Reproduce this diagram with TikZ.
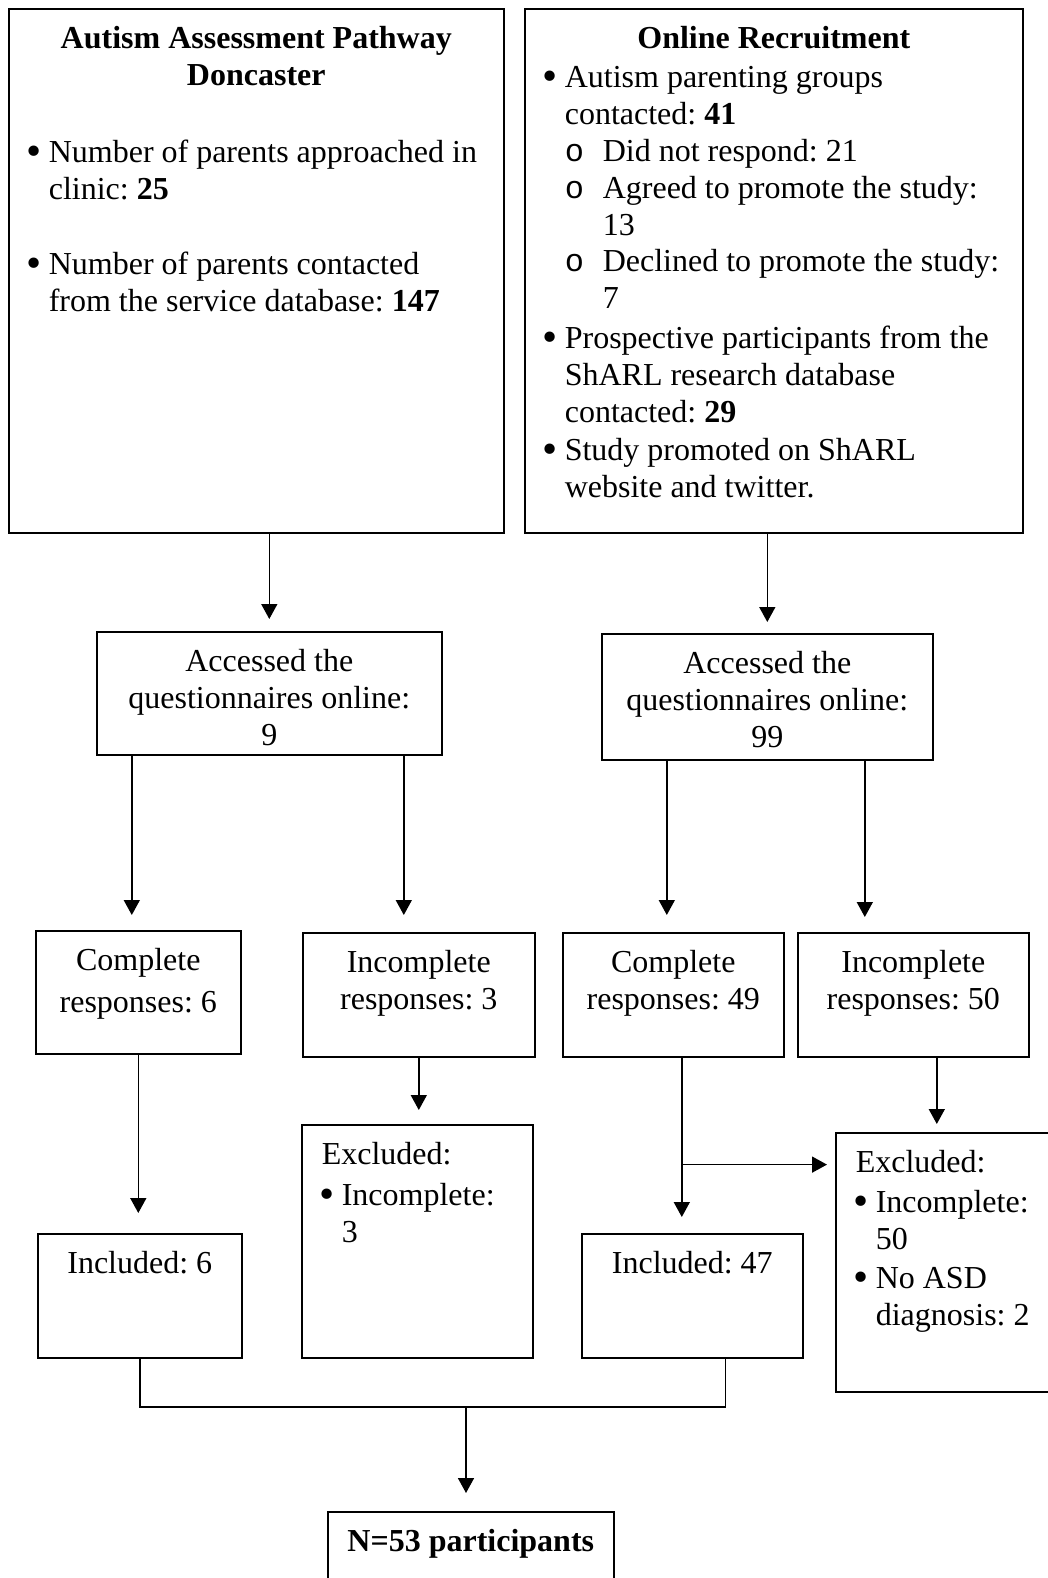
\documentclass[tikz,border=0pt]{standalone}
\usepackage{fontspec}
\setmainfont{Liberation Serif}
\newfontfamily\monofont{Liberation Mono}
\usepackage{graphicx}
\usepackage{tikz}
\usetikzlibrary{arrows.meta,positioning}
\tikzstyle{stage} = [draw=black, line width=1.6pt, inner sep=0pt, anchor=north west, font=\fontsize{32}{36.8}\selectfont\frenchspacing]
\tikzstyle{arrow} = [line width=1.6pt, -{Triangle[width=16pt,length=15pt]}]
\tikzstyle{line} = [line width=1.6pt]
\newcommand{\stagetext}[3]{\parbox[c][#2][t]{#1}{\vspace*{14pt}#3}}
\newcommand{\bul}{\makebox[20pt][l]{\hspace{-2pt}\raisebox{-3pt}{\scalebox{1.35}{\textbullet}}}}
\newcommand{\subbul}{\leavevmode\hspace*{20pt}\makebox[38pt][l]{\monofont o}}
\newcommand{\ind}[1]{\leavevmode\hspace*{#1}}

\begin{document}
\begin{tikzpicture}[x=1pt, y=-1pt]
\useasboundingbox (0,0) rectangle (1048,1578);

% Nodes
\node (apd) [stage] at (8,8) {\stagetext{495pt}{524pt}{\centering\bfseries\strut Autism Assessment Pathway\\Doncaster\\[40.6pt]\raggedright\mdseries\leftskip=20pt\bul Number of parents approached in\\\ind{20pt}clinic: \textbf{25}\\[38.4pt]\bul Number of parents contacted\\\ind{20pt}from the service database: \textbf{147}}};
\node (online) [stage] at (524,8) {\stagetext{498pt}{524pt}{\centering\bfseries\strut Online Recruitment\\[2.5pt]\raggedright\mdseries\leftskip=20pt\bul Autism parenting groups\\\ind{20pt}contacted: \textbf{41}\\\subbul Did not respond: 21\\\subbul Agreed to promote the study:\\\ind{58pt}13\\\subbul Declined to promote the study:\\\ind{58pt}7\\[3pt]\bul Prospective participants from the\\\ind{20pt}ShARL research database\\\ind{20pt}contacted: \textbf{29}\\[2pt]\bul Study promoted on ShARL\\\ind{20pt}website and twitter.}};
\node (accdon) [stage] at (96,631) {\stagetext{345pt}{123pt}{\centering\strut Accessed the\\questionnaires online:\\9}};
\node (acconl) [stage] at (601,633) {\stagetext{331pt}{126pt}{\centering\strut Accessed the\\questionnaires online:\\99}};
\node (compdon) [stage] at (35,930) {\stagetext{205pt}{123pt}{\centering\strut Complete\\[5pt]responses: 6}};
\node (incdon) [stage] at (302,932) {\stagetext{232pt}{124pt}{\centering\strut Incomplete\\responses: 3}};
\node (componl) [stage] at (562,932) {\stagetext{221pt}{124pt}{\centering\strut Complete\\responses: 49}};
\node (inconl) [stage] at (797,932) {\stagetext{231pt}{124pt}{\centering\strut Incomplete\\responses: 50}};
\node (incldon) [stage] at (37,1233) {\stagetext{204pt}{124pt}{\centering\strut Included: 6}};
\node (excldon) [stage] at (301,1124) {\stagetext{231pt}{233pt}{\raggedright\leftskip=20pt\strut Excluded:\\[4pt]\bul Incomplete:\\\ind{20pt}3}};
\node (inclonl) [stage] at (581,1233) {\stagetext{221pt}{124pt}{\centering\strut Included: 47}};
\node (exclonl) [stage] at (835,1132) {\stagetext{240pt}{259pt}{\raggedright\leftskip=20pt\strut Excluded:\\[3pt]\bul Incomplete:\\\ind{20pt}50\\[3pt]\bul No ASD\\\ind{20pt}diagnosis: 2}};
\node (total) [stage] at (327,1511) {\stagetext{286pt}{100pt}{\centering\bfseries\strut N=53 participants}};
\coordinate (split) at ([xshift=8.5pt,yshift=-107pt]componl.south);
\coordinate (join) at (466,1407);

% Arrows
\draw [arrow, shorten >=12pt] (apd.south -| accdon.north) -- (accdon.north);
\draw [arrow, shorten >=11pt] (online.south -| acconl.north) -- (acconl.north);
\draw [arrow, shorten >=15pt] ([xshift=-137.5pt]accdon.south) -- ([xshift=-6.5pt]compdon.north);
\draw [arrow, shorten >=17pt] ([xshift=134.5pt]accdon.south) -- ([xshift=-15pt]incdon.north);
\draw [arrow, shorten >=17pt] ([xshift=-100.5pt]acconl.south) -- ([xshift=-6.5pt]componl.north);
\draw [arrow, shorten >=15pt] ([xshift=97.5pt]acconl.south) -- ([xshift=-48.5pt]inconl.north);
\draw [arrow, shorten >=20pt] (compdon.south) -- (compdon.south |- incldon.north);
\draw [arrow, shorten >=14pt] (incdon.south) -- (incdon.south |- excldon.north);
\draw [arrow, shorten >=16pt] ([xshift=8.5pt]componl.south) -- ([xshift=-10.5pt]inclonl.north);
\draw [arrow, shorten >=8pt] (split) -- (split -| exclonl.west);
\draw [arrow, shorten >=8pt] ([xshift=23.5pt]inconl.south) -- ([xshift=-19pt]exclonl.north);
\draw [line] (incldon.south) |- (join) -| ([xshift=33pt]inclonl.south);
\draw [arrow, shorten >=18pt] (join) -- (join |- total.north);

\end{tikzpicture}
\end{document}
